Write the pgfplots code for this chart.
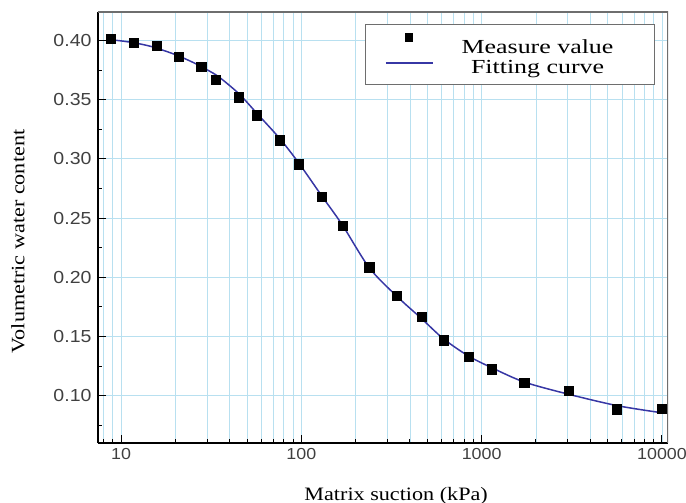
\documentclass[border=0pt]{standalone}
\usepackage{pgfplots}
\pgfplotsset{compat=1.18}
\usepackage{fontspec}
\setmainfont{Liberation Serif}
\newfontfamily\ticksf[FakeStretch=1.12]{Liberation Sans}
\newfontfamily\labsf[FakeStretch=1.17]{Liberation Serif}
\newfontfamily\legsf[FakeStretch=1.3]{Liberation Serif}
\definecolor{gridblue}{RGB}{184,224,240}
\definecolor{fitblue}{RGB}{55,55,165}
\definecolor{framegray}{RGB}{110,110,110}

\pgfplotsset{
  lineleg/.style={legend image code/.code={\draw[##1] (0bp,4bp) -- (47bp,4bp);}},
  markleg/.style={legend image code/.code={\path[draw=none,fill=none] (0bp,0bp) rectangle (47bp,0bp); \draw[##1, mark size=3.6bp] plot coordinates {(23.5bp,10bp)};}},
}

\pgfplotstableread{
x y
8.77 0.4014
11.8 0.3983
15.8 0.3955
20.8 0.3860
27.8 0.3775
33.4 0.3670
44.8 0.3520
56.8 0.3368
76.2 0.3157
96.7 0.2955
129.6 0.2679
168.8 0.2437
238 0.2084
338 0.1845
463 0.1668
614 0.1469
844 0.1329
1137 0.1224
1720 0.1106
3040 0.1040
5630 0.0885
9970 0.0887
}\measured

\pgfplotstableread{
x y
8.77 0.4005
10 0.3996
12 0.3978
15 0.3945
20 0.3880
25 0.3815
30 0.3752
35 0.3690
45 0.3550
57 0.3380
76 0.3170
97 0.2962
130 0.2685
169 0.2440
238 0.2080
338 0.1840
463 0.1652
614 0.1480
844 0.1335
1137 0.1236
1722 0.1115
3030 0.1012
5660 0.0915
10000 0.0855
}\fitted

\begin{document}
\begin{tikzpicture}
\useasboundingbox (-98bp,-60bp) rectangle (588bp,443bp);
\begin{axis}[
  at={(0,0)}, anchor=south west,
  scale only axis, width=570bp, height=431bp,
  xmode=log, xmin=7.45, xmax=10800,
  ymin=0.06, ymax=0.424,
  axis lines*=left,
  axis line style={black, line width=1.3bp},
  xtick={10,100,1000,10000}, xticklabels={10,100,1000,10000},
  minor xtick={8,9,20,30,40,50,60,70,80,90,200,300,400,500,600,700,800,900,2000,3000,4000,5000,6000,7000,8000,9000},
  ytick={0.10,0.15,0.20,0.25,0.30,0.35,0.40},
  yticklabels={0.10,0.15,0.20,0.25,0.30,0.35,0.40},
  minor ytick={0.075,0.125,0.175,0.225,0.275,0.325,0.375},
  xmajorgrids, xminorgrids, ymajorgrids,
  major grid style={gridblue, line width=0.8bp},
  minor grid style={gridblue, line width=0.8bp},
  tick align=inside,
  xtick pos=left, ytick pos=left,
  major tick length=8bp, minor tick length=4.5bp,
  every tick/.style={black, line width=1bp},
  /pgf/number format/assume math mode=true,
  tick label style={text=black!75},
  xticklabel style={font=\ticksf\fontsize{16}{16}\selectfont, yshift=-2bp},
  yticklabel style={font=\ticksf\fontsize{17.5}{17.5}\selectfont, xshift=-3bp},
  xlabel={\labsf\fontsize{19}{19}\selectfont Matrix suction (kPa)},
  ylabel={\labsf\fontsize{19}{19}\selectfont Volumetric water content},
  xlabel style={at={(rel axis cs:0.523,-0.1323)}, anchor=base},
  ylabel style={at={(rel axis cs:-0.1404,0.4675)}, anchor=center},
  legend cell align=left,
  legend style={at={(rel axis cs:1,1)}, anchor=north east, xshift=-13bp, yshift=-12bp,
    draw=framegray, line width=0.9bp, inner xsep=20bp, inner ysep=9.4bp,
    row sep=4bp, column sep=0bp, nodes={inner sep=0pt}},
]
\addplot[only marks, mark=square*, mark size=4.6bp, mark options={black, fill=black}, markleg] table[x=x,y=y] {\measured};
\addlegendentry{\makebox[201bp][l]{\hspace{7bp}\makebox[194bp][c]{\legsf\fontsize{20}{20}\selectfont\raisebox{0pt}[14bp][4bp]{Measure value}}}}
\addplot[fitblue, line width=1.5bp, smooth, lineleg] table[x=x,y=y] {\fitted};
\addlegendentry{\makebox[201bp][l]{\hspace{7bp}\makebox[194bp][c]{\legsf\fontsize{20}{20}\selectfont\raisebox{0pt}[14bp][7.6bp]{Fitting curve}}}}
\addplot[only marks, mark=square*, mark size=4.6bp, mark options={black, fill=black}, forget plot] table[x=x,y=y] {\measured};
\draw[framegray, line width=1.8bp] (rel axis cs:0,1) -- (rel axis cs:1,1) -- (rel axis cs:1,0);
\end{axis}
\end{tikzpicture}
\end{document}
